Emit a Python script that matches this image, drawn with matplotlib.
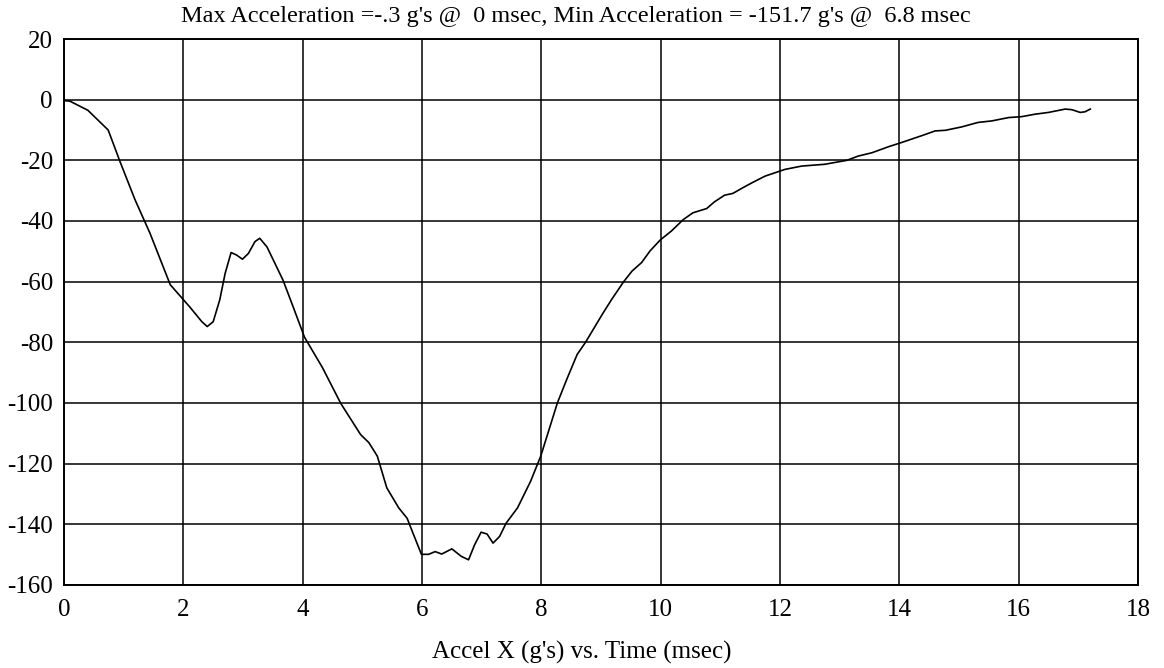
import matplotlib.pyplot as plt

plt.rcParams['font.family'] = ['Liberation Serif', 'DejaVu Serif']
plt.rcParams['axes.unicode_minus'] = False

# time (msec) and acceleration (g's)
time = [0.0, 0.1, 0.4, 0.74, 0.94, 1.19, 1.44, 1.78, 2.11, 2.31, 2.40, 2.50,
        2.61, 2.70, 2.80, 2.89, 2.99, 3.09, 3.20, 3.28, 3.40, 3.56, 3.67, 3.84,
        4.03, 4.33, 4.64, 4.97, 5.11, 5.25, 5.41, 5.61, 5.75, 5.86, 5.99, 6.11,
        6.22, 6.33, 6.50, 6.66, 6.78, 6.88, 6.99, 7.09, 7.19, 7.30, 7.41, 7.60,
        7.82, 7.99, 8.27, 8.43, 8.60, 8.74, 9.02, 9.18, 9.38, 9.52, 9.68, 9.82,
        9.99, 10.18, 10.38, 10.54, 10.77, 10.90, 11.07, 11.21, 11.38, 11.53,
        11.75, 12.08, 12.36, 12.75, 13.12, 13.31, 13.54, 13.82, 14.04, 14.37,
        14.60, 14.77, 15.04, 15.32, 15.55, 15.83, 16.05, 16.27, 16.50, 16.78,
        16.89, 17.03, 17.11, 17.20]
accel = [-0.3, -0.5, -3.5, -10.0, -20.5, -33.0, -44.0, -61.0, -68.4, -73.2,
         -74.8, -73.2, -66.0, -57.3, -50.4, -51.2, -52.6, -50.7, -46.8, -45.7,
         -48.5, -55.0, -59.5, -68.3, -78.3, -88.3, -100.2, -110.4, -113.1,
         -117.5, -128.0, -134.6, -138.0, -143.5, -149.9, -149.9, -149.0,
         -149.8, -148.1, -150.6, -151.7, -146.8, -142.6, -143.2, -146.2,
         -144.0, -139.6, -134.6, -125.8, -117.5, -99.9, -92.0, -84.0, -80.0,
         -70.8, -65.8, -60.0, -56.5, -53.7, -49.9, -46.3, -43.3, -39.5, -37.3,
         -35.9, -33.7, -31.5, -30.9, -29.0, -27.4, -25.2, -23.0, -21.9, -21.3,
         -20.0, -18.6, -17.5, -15.5, -14.1, -11.9, -10.3, -10.1, -9.0, -7.5,
         -7.0, -5.9, -5.6, -4.8, -4.2, -3.1, -3.3, -4.2, -4.0, -3.1]

x_ticks = list(range(0, 19, 2))
y_ticks = list(range(-160, 21, 20))

fig = plt.figure(figsize=(11.64, 6.68), dpi=100)
ax = fig.add_axes([0.055, 0.1243, 0.9227, 0.8173])

ax.plot(time, accel, color="black", linewidth=1.2)

ax.set_xlim(0, 18)
ax.set_ylim(-160, 20)
ax.set_xticks(x_ticks)
ax.set_yticks(y_ticks)
ax.grid(True, color="black", linewidth=1.1)
ax.tick_params(length=0, labelsize=18)
ax.tick_params(axis="x", pad=10)
ax.tick_params(axis="y", pad=8)
for spine in ax.spines.values():
    spine.set_linewidth(1.4)

fig.text(0.495, 0.976, "Max Acceleration =-.3 g's @  0 msec, Min Acceleration = -151.7 g's @  6.8 msec",
         ha="center", va="center", fontsize=17.5)
fig.text(0.5, 0.024, "Accel X (g's) vs. Time (msec)", ha="center", va="center", fontsize=18)

plt.savefig("out.png")
